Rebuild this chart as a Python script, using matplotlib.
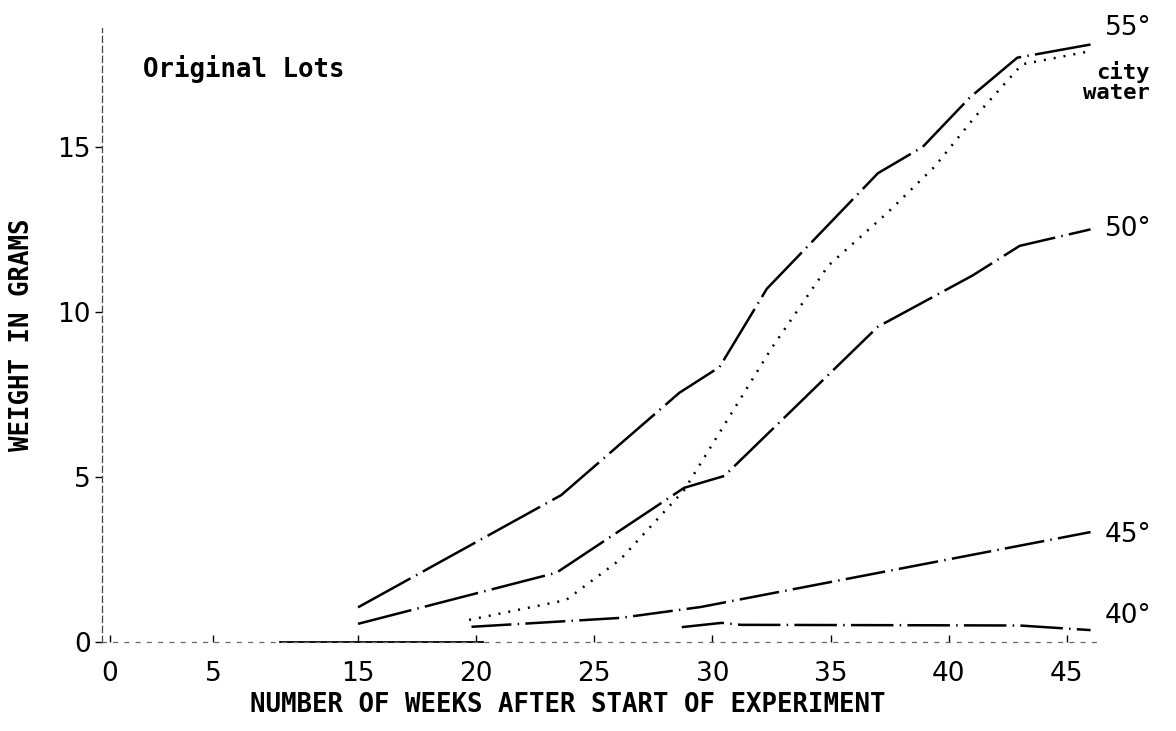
#! /usr/bin/env python3
# growth of the original lots at four temperatures and in city water
import numpy as np
import matplotlib
matplotlib.use("Agg")
import matplotlib.pyplot as plt

# weeks after start / weight in grams
weeks_55 = [15, 23.6, 28.6, 30.3, 32.3, 37.0, 38.9, 40.9, 42.9, 46.0]
grams_55 = [1.05, 4.45, 7.55, 8.33, 10.7, 14.2, 15.0, 16.5, 17.7, 18.1]

weeks_city = [19.7, 23.8, 26.1, 28.8, 32.5, 34.9, 37.4, 39.4, 41.1, 43.1, 46.0]
grams_city = [0.67, 1.27, 2.5, 4.6, 8.9, 11.4, 13.0, 14.4, 15.9, 17.5, 17.9]

weeks_50 = [15, 23.4, 28.8, 30.5, 37.0, 41.0, 43.0, 46.0]
grams_50 = [0.55, 2.1, 4.67, 5.03, 9.55, 11.1, 12.0, 12.5]

weeks_45 = [19.8, 26.1, 29.5, 46.0]
grams_45 = [0.46, 0.73, 1.06, 3.33]

weeks_40 = [28.7, 30.4, 31.2, 43.0, 46.0]
grams_40 = [0.45, 0.58, 0.52, 0.50, 0.36]

weeks_zero = [9.6, 20.3]
grams_zero = [0, 0]

xticks = [0, 5, 15, 20, 25, 30, 35, 40, 45]
yticks = [0, 5, 10, 15]

# the hand drawn week axis is squeezed before week 15
anchor_weeks = [-10, 0, 5, 15, 60]
anchor_pos = [-206, 0, 103, 248, 248 + 45 * 23.63]


def fwd(w):
    return np.interp(w, anchor_weeks, anchor_pos)


def inv(p):
    return np.interp(p, anchor_pos, anchor_weeks)


if __name__ == '__main__':
    hand = 'DejaVu Sans'
    typer = 'DejaVu Sans Mono'

    fig = plt.figure(figsize=(11.76, 7.31), dpi=100)
    ax = fig.add_axes([102 / 1176, 89 / 731, 998 / 1176, 614 / 731])
    ax.set_xscale('function', functions=(fwd, inv))
    ax.set_xlim(-0.39, 46.4)
    ax.set_ylim(0, 18.6)

    lw = 1.8
    ax.plot(weeks_55, grams_55, color='black', lw=lw, dashes=(24, 2.5, 0.6, 2.5))
    ax.plot(weeks_city, grams_city, color='black', lw=lw, dashes=(0.8, 3.2))
    ax.plot(weeks_50, grams_50, color='black', lw=lw, dashes=(22, 2.5, 0.6, 2.5))
    ax.plot(weeks_45, grams_45, color='black', lw=lw, dashes=(16, 2.5, 0.6, 2.5))
    ax.plot(weeks_40, grams_40, color='black', lw=lw, dashes=(17, 2.5, 0.6, 2.5))
    ax.plot(weeks_zero, grams_zero, color='black', lw=1.3, clip_on=False)

    # curve labels at the right end
    lab_x = 46.6
    ax.text(lab_x, 18.6, '55°', fontsize=19, family=hand, va='center', clip_on=False)
    ax.text(48.5, 16.95, 'city\nwater', fontsize=16, family=typer, weight='bold',
            ha='right', va='center', linespacing=1.0, clip_on=False)
    ax.text(lab_x, 12.5, '50°', fontsize=19, family=hand, va='center', clip_on=False)
    ax.text(lab_x, 3.25, '45°', fontsize=19, family=hand, va='center', clip_on=False)
    ax.text(lab_x, 0.8, '40°', fontsize=19, family=hand, va='center', clip_on=False)

    ax.text(1.6, 17.35, 'Original Lots', fontsize=18.5, family=typer, weight='bold',
            va='center')

    for side in ['top', 'right']:
        ax.spines[side].set_visible(False)
    ax.spines['left'].set_linestyle((0, (5, 3)))
    ax.spines['left'].set_linewidth(0.9)
    ax.spines['left'].set_color('#444444')
    ax.spines['bottom'].set_linestyle((0, (3, 6)))
    ax.spines['bottom'].set_linewidth(0.9)
    ax.spines['bottom'].set_color('#666666')

    ax.set_xticks(xticks)
    ax.set_xticklabels([str(t) for t in xticks])
    ax.set_yticks(yticks)
    ax.set_yticklabels([str(t) for t in yticks])
    ax.minorticks_off()
    ax.tick_params(axis='x', direction='in', length=5, width=1, pad=14, labelsize=19)
    ax.tick_params(axis='y', direction='out', length=5, width=1, pad=3, labelsize=19)
    for lab in ax.get_xticklabels() + ax.get_yticklabels():
        lab.set_family(hand)

    fig.text(568 / 1176, 1 - 705 / 731, 'NUMBER OF WEEKS AFTER START OF EXPERIMENT',
             fontsize=18.5, family=typer, weight='bold', ha='center', va='center')
    fig.text(22 / 1176, 1 - 335 / 731, 'WEIGHT IN GRAMS', fontsize=18.5, family=typer,
             weight='bold', rotation=90, ha='center', va='center')

    plt.savefig("out.png", dpi=100)
    plt.close('all')
